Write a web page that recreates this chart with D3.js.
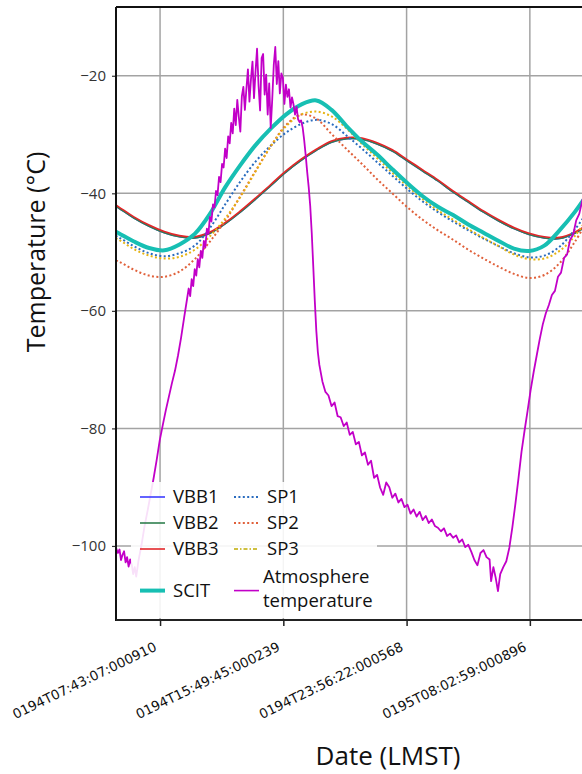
<!DOCTYPE html>
<html>
<head>
<meta charset="utf-8">
<script src="https://cdn.jsdelivr.net/npm/d3@7"></script>
<style>
  html, body { margin: 0; padding: 0; background: #fff; }
  svg { display: block; font-family: "Open Sans", "Noto Sans", sans-serif; }
</style>
</head>
<body>
<svg id="chart" width="582" height="774"></svg>
<script>
// ---------- DATA ----------
const hours = [4,5,6,7,8,9,10,11,12,13,14,15,16,17,18,19,20,21,22,23,24,25,26,27,28,29,30,31,32,33,34,35,36];

const vbb1 = [-40.8,-42.5,-44.2,-45.6,-46.7,-47.4,-47.6,-46.8,-45.2,-43.2,-41.0,-38.7,-36.4,-34.4,-32.7,-31.3,-30.7,-30.8,-31.6,-32.8,-34.5,-36.2,-37.9,-39.8,-41.5,-43.2,-44.7,-46.0,-47.0,-47.6,-47.7,-46.8,-45.2];
const vbb2 = [-40.8,-42.5,-44.2,-45.6,-46.7,-47.4,-47.6,-46.8,-45.2,-43.2,-41.0,-38.7,-36.4,-34.4,-32.7,-31.3,-30.7,-30.8,-31.6,-32.8,-34.5,-36.2,-37.9,-39.8,-41.5,-43.2,-44.7,-46.0,-47.0,-47.6,-47.7,-46.8,-45.2];
const vbb3 = [-40.6,-42.3,-44.0,-45.4,-46.5,-47.2,-47.4,-46.6,-45.0,-43.0,-40.8,-38.5,-36.2,-34.2,-32.5,-31.1,-30.5,-30.6,-31.4,-32.6,-34.3,-36.0,-37.7,-39.6,-41.3,-43.0,-44.5,-45.8,-46.8,-47.4,-47.5,-46.6,-45.0];
const sp1  = [-46.3,-47.5,-49.0,-50.2,-50.7,-50.2,-48.9,-45.9,-41.9,-38.0,-34.6,-31.9,-29.7,-28.2,-27.5,-28.2,-30.2,-32.4,-34.7,-37.0,-39.3,-41.4,-43.2,-44.8,-46.3,-47.7,-49.0,-50.2,-50.9,-50.6,-49.1,-46.2,-42.5];
const sp2  = [-50.6,-51.6,-53.0,-54.0,-54.2,-53.3,-51.2,-48.2,-44.7,-40.5,-36.2,-32.0,-28.4,-26.6,-27.3,-29.9,-32.5,-35.0,-37.6,-40.0,-42.4,-44.5,-46.3,-47.9,-49.6,-51.1,-52.5,-53.7,-54.4,-53.9,-51.9,-48.3,-43.9];
const sp3  = [-46.7,-47.9,-49.5,-50.6,-51.1,-50.8,-49.6,-47.3,-44.3,-40.6,-36.3,-32.0,-28.6,-26.6,-26.1,-26.9,-29.0,-31.6,-34.0,-36.5,-38.8,-41.0,-42.9,-44.5,-46.1,-47.6,-49.0,-50.4,-51.2,-51.1,-49.8,-47.3,-43.6];
const scit = [-45.4,-46.8,-48.2,-49.3,-49.7,-48.7,-46.9,-43.5,-39.0,-35.2,-31.8,-29.0,-26.6,-24.9,-24.2,-25.8,-28.6,-31.2,-33.4,-35.9,-38.3,-40.5,-42.3,-43.7,-45.3,-46.7,-48.1,-49.4,-49.8,-48.9,-46.3,-43.2,-39.5];

const atmHours = [4.82,4.95,5.05,5.15,5.25,5.35,5.45,5.55,5.65,5.75,5.85,5.95,6.05,6.15,
  6.3,6.5,6.7,6.9,7.1,7.3,7.5,7.7,7.9,8.1,8.3,8.5,8.7,8.9,9.1,9.3,9.5,
  9.6,9.7,9.8,9.9,10.0,10.1,10.2,10.3,10.4,10.5,10.6,10.7,10.8,10.9,11.0,11.1,11.2,11.3,11.4,11.5,11.6,11.7,11.8,11.9,12.0,12.1,12.2,12.3,12.4,12.5,
  12.6,12.7,12.8,12.9,13.0,13.1,13.2,13.3,13.4,13.5,13.6,13.7,13.8,13.9,14.0,14.1,14.2,14.3,14.4,14.5,14.6,14.7,14.8,14.9,15.0,15.1,15.2,15.3,15.4,15.5,15.6,15.7,15.8,15.9,16.0,16.1,16.2,16.3,16.4,16.5,16.6,16.7,16.8,16.9,
  17.0,17.1,17.2,17.3,17.4,17.5,17.6,17.7,17.8,17.9,18.0,18.1,18.2,18.3,18.4,
  18.6,18.8,19.0,19.2,19.4,19.6,19.8,20.0,20.2,20.4,20.6,20.8,21.0,21.2,21.4,21.6,21.8,22.0,22.2,22.4,22.6,22.8,23.0,23.2,23.4,23.6,23.8,24.0,24.2,24.4,24.6,24.8,25.0,25.2,25.4,25.6,25.8,26.0,26.2,26.4,26.6,26.8,27.0,27.2,27.4,27.6,27.8,28.0,28.2,28.4,28.6,28.8,29.0,29.2,29.4,29.5,29.65,29.8,29.95,30.1,30.3,30.5,30.7,30.9,31.1,31.3,31.5,31.7,31.9,32.1,32.3,32.5,32.7,32.9,33.1,33.3,33.5,33.7,33.9,34.1,34.3,34.5,34.7,34.9,35.1,35.3,35.5,35.7,35.9,36.1];
const atmTemp = [-100.3,-101.2,-100.6,-102.4,-101.5,-100.9,-102.8,-101.9,-103.5,-102.3,-103.1,-104.8,-103.6,-105.2,
  -102.5,-99.8,-96.6,-94.0,-91.2,-88.4,-85.3,-82.0,-79.4,-76.9,-74.6,-72.3,-70.2,-67.6,-64.6,-61.2,-57.9,
  -56.2,-57.5,-54.6,-55.8,-52.9,-54.0,-51.2,-52.6,-49.8,-51.0,-48.1,-49.2,-46.0,-46.9,-44.0,-44.8,-41.9,-42.4,-39.6,-40.3,-37.2,-38.1,-35.0,-35.6,-32.4,-34.0,-30.3,-31.5,-28.0,-29.8,
  -25.6,-28.4,-24.1,-27.0,-29.5,-23.5,-21.9,-25.8,-22.2,-18.9,-24.4,-20.6,-17.6,-23.8,-19.3,-15.4,-21.7,-25.9,-17.0,-16.3,-23.2,-19.8,-26.6,-21.3,-28.9,-24.0,-18.2,-15.1,-21.4,-17.5,-23.0,-19.6,-20.4,-24.8,-21.5,-23.6,-22.3,-25.4,-23.7,-24.9,-26.6,-25.3,-27.4,-27.9,
  -27.6,-28.8,-30.9,-33.5,-36.4,-39.0,-42.2,-46.8,-52.5,-58.3,-63.4,-67.0,-69.2,-70.6,-72.0,
  -73.8,-74.4,-76.2,-75.6,-77.9,-78.1,-79.6,-79.0,-81.1,-80.6,-82.7,-82.3,-84.6,-84.1,-86.2,-85.5,-88.4,-87.9,-90.1,-91.3,-89.2,-90.0,-91.8,-91.1,-92.6,-92.0,-93.4,-93.0,-94.5,-93.8,-95.0,-94.2,-95.6,-94.9,-96.1,-95.5,-96.6,-96.9,-97.5,-97.0,-98.3,-97.9,-98.6,-98.2,-99.4,-98.9,-100.2,-99.8,-101.0,-102.4,-103.3,-101.2,-100.7,-101.9,-102.3,-106.0,-103.6,-105.4,-107.7,-104.8,-103.6,-102.6,-100.3,-96.8,-92.8,-88.5,-84.0,-80.4,-77.0,-73.5,-70.4,-67.6,-64.8,-62.3,-60.4,-59.0,-57.3,-56.6,-54.2,-53.5,-51.0,-50.4,-47.9,-47.0,-44.6,-43.5,-41.2,-39.8,-37.5,-36.0];

const xTickHours  = [7.7186, 15.8292, 23.9394, 32.0497];
const xTickLabels = ["0194T07:43:07:000910", "0194T15:49:45:000239", "0194T23:56:22:000568", "0195T08:02:59:000896"];
const yTicks = [-100, -80, -60, -40, -20];

const seriesNames = ["VBB1","VBB2","VBB3","SP1","SP2","SP3","SCIT","Atmosphere temperature"];

// ---------- LAYOUT ----------
(function () {
const svg = d3.select("#chart");
const mL = 116, mT = 7, mB = 620, mR = 597.5;
const x = d3.scaleLinear().domain([4.82, 36.5]).range([mL, mR]);
const y = d3.scaleLinear().domain([-112.6, -8.3]).range([mB, mT]);

const styles = {
  VBB1: {color: "#3b3bff", width: 1.6, dash: null},
  VBB2: {color: "#2f7f4f", width: 1.6, dash: null},
  VBB3: {color: "#e3262a", width: 1.6, dash: null},
  SP1:  {color: "#2a6cbf", width: 2, dash: "2,2.4"},
  SP2:  {color: "#e0603a", width: 2, dash: "2,2.4"},
  SP3:  {color: "#e6b414", width: 2, dash: "2,2.4"},
  SCIT: {color: "#17bfb3", width: 4, dash: null},
  "Atmosphere temperature": {color: "#c200c8", width: 1.8, dash: null}
};

svg.append("defs").append("clipPath").attr("id","plotclip")
  .append("rect").attr("x", mL).attr("y", mT).attr("width", mR - mL).attr("height", mB - mT);

const grid = svg.append("g");
grid.selectAll("line.v").data(xTickHours).enter().append("line")
  .attr("x1", d => x(d)).attr("x2", d => x(d)).attr("y1", mT).attr("y2", mB)
  .attr("stroke", "#a3a3a3").attr("stroke-width", 1.5);
grid.selectAll("line.h").data(yTicks).enter().append("line")
  .attr("x1", mL).attr("x2", mR).attr("y1", d => y(d)).attr("y2", d => y(d))
  .attr("stroke", "#a3a3a3").attr("stroke-width", 1.5);

const plot = svg.append("g").attr("clip-path", "url(#plotclip)");
const smooth = d3.line().x(d => x(d[0])).y(d => y(d[1])).curve(d3.curveCatmullRom.alpha(0.5));
const raw = d3.line().x(d => x(d[0])).y(d => y(d[1]));

const smoothSeries = [["VBB1", vbb1], ["VBB2", vbb2], ["VBB3", vbb3], ["SP1", sp1], ["SP2", sp2], ["SP3", sp3], ["SCIT", scit]];
smoothSeries.forEach(([name, vals]) => {
  const s = styles[name];
  plot.append("path")
    .datum(hours.map((h, i) => [h, vals[i]]))
    .attr("d", smooth)
    .attr("fill", "none")
    .attr("stroke", s.color)
    .attr("stroke-width", s.width)
    .attr("stroke-dasharray", s.dash)
    .attr("stroke-linecap", s.dash ? "butt" : "round");
});
const aS = styles["Atmosphere temperature"];
plot.append("path")
  .datum(atmHours.map((h, i) => [h, atmTemp[i]]))
  .attr("d", raw)
  .attr("fill", "none")
  .attr("stroke", aS.color)
  .attr("stroke-width", aS.width)
  .attr("stroke-linejoin", "round");

const yAxis = svg.append("g").attr("transform", `translate(${mL},0)`)
  .call(d3.axisLeft(y).tickValues(yTicks).tickSize(4).tickPadding(6).tickFormat(d3.format("d")));
yAxis.select(".domain").remove();
yAxis.selectAll(".tick line").attr("stroke", "#333").attr("stroke-width", 1.2);
yAxis.selectAll(".tick text").attr("font-size", 15).attr("fill", "#333")
  .style("font-family", "'Open Sans', sans-serif");

const xAxis = svg.append("g").attr("transform", `translate(0,${mB})`)
  .call(d3.axisBottom(x).tickValues(xTickHours).tickSize(6).tickFormat((d, i) => xTickLabels[i]));
xAxis.select(".domain").remove();
xAxis.selectAll(".tick line").attr("stroke", "#222").attr("stroke-width", 1.5);
xAxis.selectAll(".tick text")
  .attr("font-size", 13.4).attr("fill", "#111")
  .style("font-family", "'DejaVu Sans', sans-serif")
  .attr("text-anchor", "end")
  .attr("y", 0).attr("dy", 0)
  .attr("transform", "translate(-3,30) rotate(-26)");

svg.append("line").attr("x1", mL).attr("x2", mL).attr("y1", mT).attr("y2", mB + 1)
  .attr("stroke", "#111").attr("stroke-width", 2);
svg.append("line").attr("x1", mL).attr("x2", 582).attr("y1", mB).attr("y2", mB)
  .attr("stroke", "#222").attr("stroke-width", 2);
svg.append("line").attr("x1", mL).attr("x2", 582).attr("y1", mT).attr("y2", mT)
  .attr("stroke", "#111").attr("stroke-width", 2);

svg.append("text").attr("transform", "translate(45,252) rotate(-90)")
  .attr("text-anchor", "middle").attr("font-size", 25).attr("fill", "#111")
  .text("Temperature (°C)");
svg.append("text").attr("x", 388).attr("y", 765)
  .attr("text-anchor", "middle").attr("font-size", 26).attr("fill", "#111")
  .text("Date (LMST)");

const lg = svg.append("g");
lg.append("rect").attr("x", 131).attr("y", 482).attr("width", 246).attr("height", 136)
  .attr("fill", "#fff").attr("fill-opacity", 0.88);
const legendItems = [
  {name: "VBB1", col: 0, row: 0},
  {name: "VBB2", col: 0, row: 1},
  {name: "VBB3", col: 0, row: 2},
  {name: "SCIT", col: 0, row: 3.6},
  {name: "SP1", col: 1, row: 0},
  {name: "SP2", col: 1, row: 1},
  {name: "SP3", col: 1, row: 2},
  {name: "Atmosphere temperature", col: 1, row: 3.6}
];
legendItems.forEach(it => {
  const s = styles[it.name];
  const lx = it.col === 0 ? 140 : 234;
  const ly = 497 + it.row * 26;
  lg.append("line").attr("x1", lx).attr("x2", lx + 25).attr("y1", ly).attr("y2", ly)
    .attr("stroke", it.name === "SP3" ? "#cfc040" : s.color)
    .attr("stroke-width", it.name === "SCIT" ? 4 : (it.name.startsWith("SP") ? 2.2 : 1.6))
    .attr("stroke-dasharray", it.name === "SP3" ? "4,2,1.5,2" : s.dash);
  if (it.name === "Atmosphere temperature") {
    const t = lg.append("text").attr("x", lx + 29).attr("y", ly - 8).attr("font-size", 18.5).attr("fill", "#111");
    t.append("tspan").attr("x", lx + 29).attr("dy", 0).text("Atmosphere");
    t.append("tspan").attr("x", lx + 29).attr("dy", 24).text("temperature");
  } else {
    lg.append("text").attr("x", lx + 33).attr("y", ly).attr("dy", "0.35em")
      .attr("font-size", 18.5).attr("fill", "#111").text(it.name);
  }
});
})();
</script>
</body>
</html>
